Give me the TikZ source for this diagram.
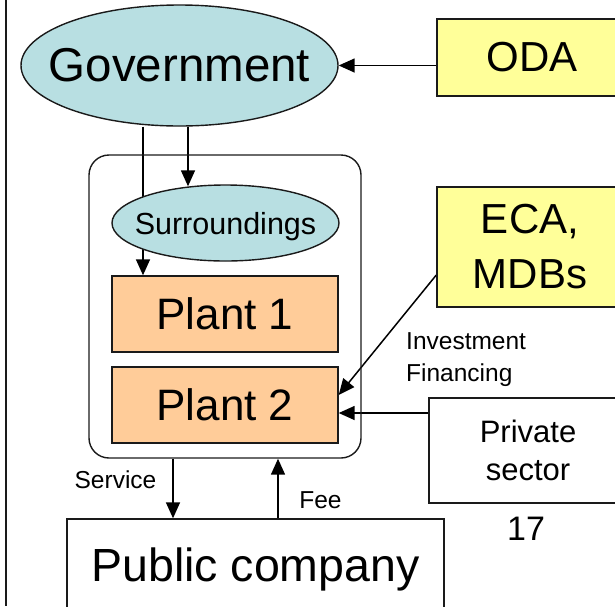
\documentclass[tikz,border=0pt]{standalone}
\usepackage{fontspec}
\setmainfont{Liberation Sans}
\usetikzlibrary{arrows.meta,shapes.geometric,backgrounds}
\definecolor{govcyan}{HTML}{B8DFE2}
\definecolor{odayellow}{HTML}{FFFF99}
\definecolor{plantpeach}{HTML}{FFCC99}
\definecolor{edgegray}{HTML}{1A1A1A}
\tikzset{
  ell/.style={ellipse, draw=edgegray, fill=govcyan, line width=1.4pt, inner xsep=-45pt, inner ysep=0pt},
  fundbox/.style={rectangle, draw=edgegray, fill=odayellow, line width=1.4pt, inner sep=0pt, align=center},
  plantbox/.style={rectangle, draw=edgegray, fill=plantpeach, line width=1.4pt, inner sep=0pt},
  whitebox/.style={rectangle, draw=edgegray, fill=white, line width=1.4pt, inner sep=0pt, align=center},
  arr/.style={-{Triangle[length=16pt,width=14pt]}, line width=1.5pt, draw=black},
  lbl/.style={inner sep=0pt, font=\fontsize{24.5}{32}\selectfont}
}
\begin{document}
\begin{tikzpicture}[x=1pt,y=-1pt]
\useasboundingbox (0,0) rectangle (615,606);
\clip (0,0) rectangle (615,606);
\draw[line width=1.4pt, edgegray] (6,0) -- (6,606);

% container
\node[draw=edgegray, line width=1.4pt, rounded corners=20pt, minimum width=272pt, minimum height=303pt, inner sep=0pt] (cont) at (225,306.5) {};

% nodes
\node[ell, minimum width=317pt, minimum height=121pt, font=\fontsize{47.5}{56}\selectfont] (gov) at (179.5,65.5) {Government};
\node[fundbox, minimum width=190pt, minimum height=77pt, font=\fontsize{42}{50}\selectfont] (oda) at (532,57.5) {ODA};
\node[fundbox, minimum width=186pt, minimum height=120pt, font=\fontsize{42}{55}\selectfont] (eca) at (530,247) {ECA,\\MDBs};
\node[ell, minimum width=227pt, minimum height=76pt, text depth=0pt, font=\fontsize{30.5}{36}\selectfont] (surr) at (225.5,223) {Surroundings};
\node[plantbox, minimum width=226pt, minimum height=76pt, font=\fontsize{44}{52}\selectfont] (plant1) at (225,314) {Plant 1};
\node[plantbox, minimum width=226pt, minimum height=76pt, font=\fontsize{44}{52}\selectfont] (plant2) at (225,405) {Plant 2};
\node[whitebox, minimum width=198pt, minimum height=105pt, font=\fontsize{31}{38}\selectfont] (priv) at (528,450.5) {Private\\sector};
\node[whitebox, minimum width=377pt, minimum height=92pt, text depth=0pt, font=\fontsize{46.5}{55}\selectfont] (pub) at (255.5,565) {Public company};
\node[inner sep=0pt, font=\fontsize{34}{40}\selectfont] (pgnum) at (526,528.5) {17};

% labels
\node[lbl, anchor=base] (svc) at (115.5,488) {Service};
\node[lbl, anchor=base] (fee) at (320.5,508) {Fee};
\node[lbl, anchor=north west, align=left] (inv) at (406,332) {Investment\\Financing};

% connectors
\begin{pgfonlayer}{background}
\draw[arr] (oda.west |- gov.east) -- (gov.east);
\draw[arr] ([xshift=-36.5pt]gov.south) -- ([xshift=-36.5pt]gov.south |- plant1.north);
\draw[arr] ([xshift=8.5pt]gov.south) -- ([xshift=-37.5pt,yshift=-2pt]surr.north);
\draw[arr] ([yshift=-28pt]eca.west) -- ([yshift=10pt]plant2.east);
\draw[arr] ([yshift=37.5pt]priv.west) -- ([yshift=37.5pt]priv.west -| plant2.east);
\draw[arr] ([xshift=-52pt]cont.south) -- ([xshift=-52pt]cont.south |- pub.north);
\draw[arr] ([xshift=53pt]cont.south |- pub.north) -- ([xshift=53pt]cont.south);
\end{pgfonlayer}
\end{tikzpicture}
\end{document}
